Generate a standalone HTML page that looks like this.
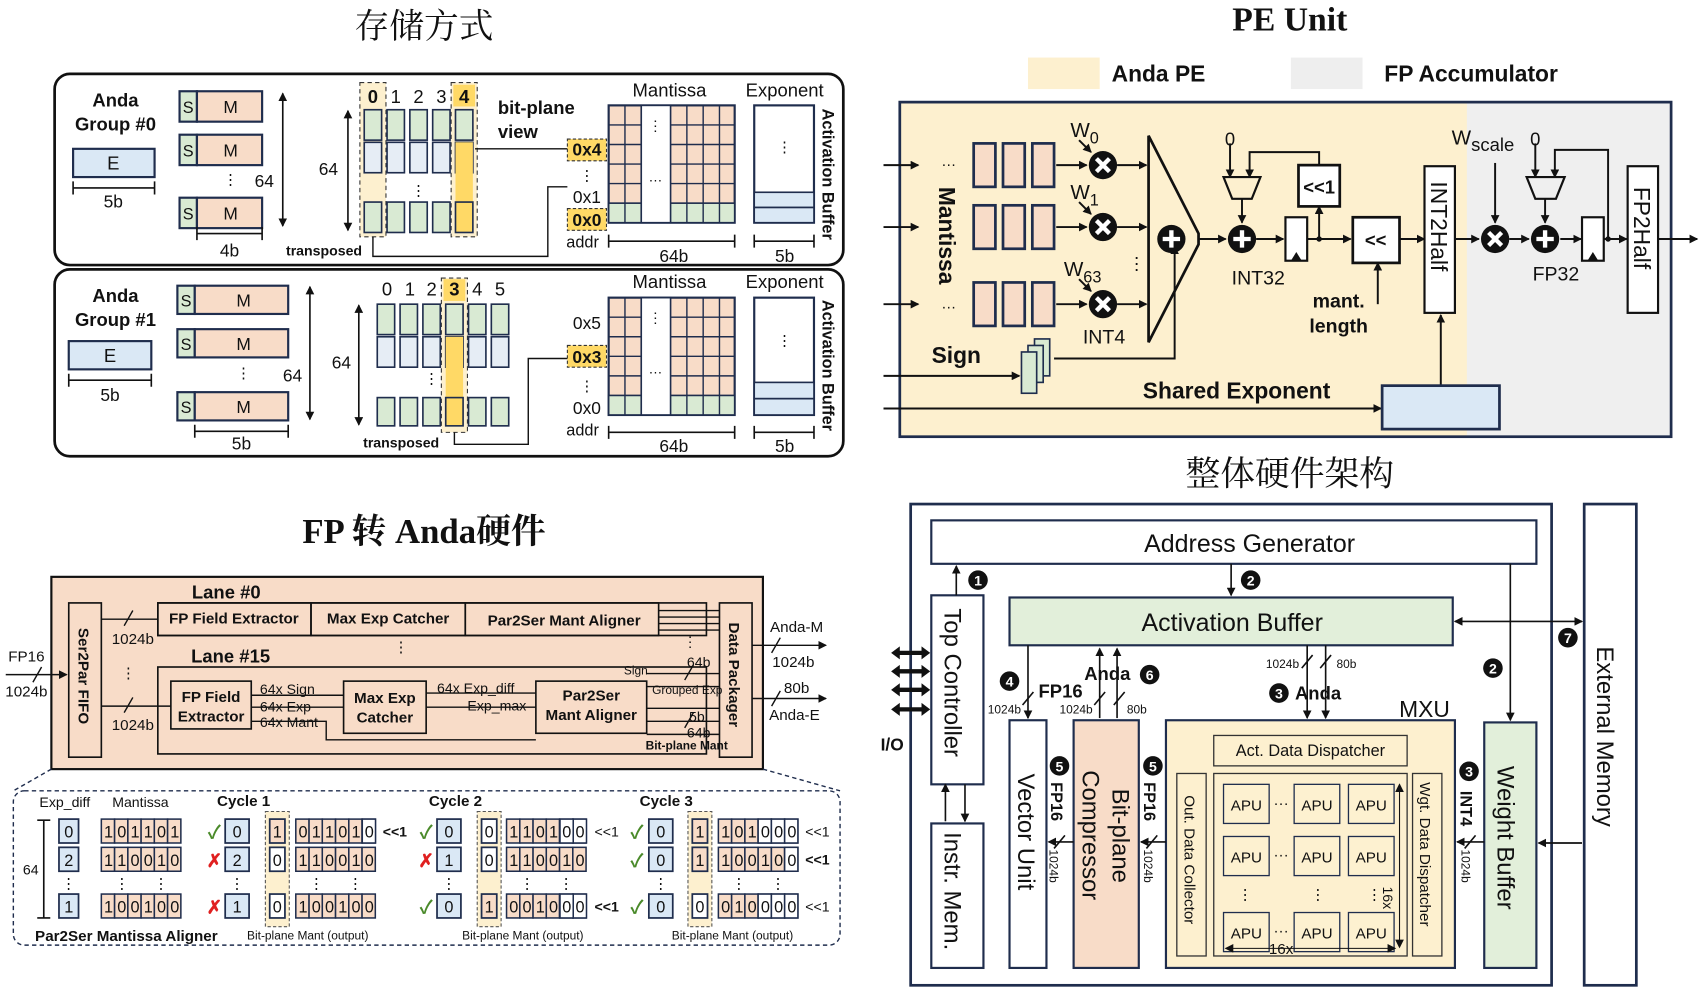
<!DOCTYPE html>
<html><head><meta charset="utf-8"><style>
html,body{margin:0;padding:0;background:#fff;}
svg{display:block;}
text{font-family:"Liberation Sans","Noto Sans CJK SC",sans-serif;fill:#111;}
.b{font-weight:bold;}
.cj{font-family:"Liberation Serif","Noto Serif CJK SC",serif;}
</style></head><body>
<svg width="1704" height="994" viewBox="0 0 1568 915" xmlns="http://www.w3.org/2000/svg">
<defs>
<marker id="ar" markerWidth="8" markerHeight="8" refX="7" refY="4" orient="auto" markerUnits="userSpaceOnUse"><path d="M0,0 L8,4 L0,8 z" fill="#111"/></marker>
<marker id="al" markerWidth="8" markerHeight="8" refX="1" refY="4" orient="auto" markerUnits="userSpaceOnUse"><path d="M8,0 L0,4 L8,8 z" fill="#111"/></marker>
<g id="m6" stroke="#1f2d4d" stroke-width="1.4" fill="#f8dcc8">
<rect x="0" width="12.2" height="22"/><rect x="12.2" width="12.2" height="22"/><rect x="24.4" width="12.2" height="22"/><rect x="36.6" width="12.2" height="22"/><rect x="48.8" width="12.2" height="22"/><rect x="61" width="12.2" height="22"/>
</g>
<g id="mgrid">
<rect x="0" y="0" width="116" height="108" fill="#f8dcc8" stroke="#1f2d4d" stroke-width="2"/>
<rect x="0" y="90" width="116" height="18" fill="#d9ead3" stroke="#1f2d4d" stroke-width="1.5"/>
<path d="M0,18 H116 M0,36 H116 M0,54 H116 M0,72 H116 M15,0 V108 M72,0 V108 M87,0 V108 M102,0 V108" stroke="#1f2d4d" stroke-width="1.3"/>
<rect x="30" y="0" width="27" height="108" fill="#fff" stroke="#1f2d4d" stroke-width="1.5"/>
<text x="43" y="23" font-size="13" text-anchor="middle">⋮</text>
<text x="43" y="70" font-size="13" text-anchor="middle">…</text>
</g>
<g id="col"><rect x="0" y="0" width="16" height="28" fill="#d9ead3" stroke="#1f2d4d" stroke-width="1.5"/><rect x="0" y="30" width="16" height="28" fill="#e6edf5" stroke="#1f2d4d" stroke-width="1.5"/></g>
<g id="cir"><circle r="13" fill="#111"/><path d="M-6,-6 L6,6 M-6,6 L6,-6" stroke="#fff" stroke-width="4"/></g>
<g id="plus"><circle r="13" fill="#111"/><path d="M-8,0 H8 M0,-8 V8" stroke="#fff" stroke-width="4"/></g>
<g id="reg3"><rect x="0" y="0" width="20" height="40" fill="#f8dcc8" stroke="#1f2d4d" stroke-width="2.5"/><rect x="27" y="0" width="20" height="40" fill="#f8dcc8" stroke="#1f2d4d" stroke-width="2.5"/><rect x="54" y="0" width="20" height="40" fill="#f8dcc8" stroke="#1f2d4d" stroke-width="2.5"/></g>
<g id="apu"><rect width="42" height="36" fill="#fdf1d0" stroke="#1f2d4d" stroke-width="1.2"/><text x="21" y="24" font-size="14" text-anchor="middle">APU</text></g>
</defs>

<!-- ================= TITLES ================= -->
<text x="390" y="35" font-size="32" text-anchor="middle" class="cj">存储方式</text>
<text x="1187" y="28" font-size="31" text-anchor="middle" class="cj b">PE Unit</text>
<text x="1187" y="447" font-size="32" text-anchor="middle" class="cj">整体硬件架构</text>
<text x="390" y="500" font-size="32" text-anchor="middle" class="cj b">FP 转 Anda硬件</text>

<!-- ================= STORAGE PANEL 1 ================= -->
<rect x="50" y="68" width="726" height="176" rx="14" fill="none" stroke="#111" stroke-width="2.5"/>
<text x="106" y="98" font-size="17" class="b" text-anchor="middle">Anda</text>
<text x="106" y="120" font-size="17" class="b" text-anchor="middle">Group #0</text>
<rect x="67" y="137" width="75" height="26" fill="#dae8f5" stroke="#1f2d4d" stroke-width="2"/>
<text x="104" y="156" font-size="17" text-anchor="middle">E</text>
<path d="M67,173 H142 M67,167 V179 M142,167 V179" stroke="#111" stroke-width="1.5"/>
<text x="104" y="191" font-size="16" text-anchor="middle">5b</text>
<g stroke="#1f2d4d" stroke-width="2">
<rect x="165" y="84" width="16" height="28" fill="#d9ead3"/><rect x="181" y="84" width="60" height="28" fill="#f8dcc8"/>
<rect x="165" y="124" width="16" height="28" fill="#d9ead3"/><rect x="181" y="124" width="60" height="28" fill="#f8dcc8"/>
<rect x="165" y="182" width="16" height="28" fill="#d9ead3"/><rect x="181" y="182" width="60" height="28" fill="#f8dcc8"/>
</g>
<text x="173" y="104" font-size="15" text-anchor="middle">S</text><text x="212" y="104" font-size="16" text-anchor="middle">M</text>
<text x="173" y="144" font-size="15" text-anchor="middle">S</text><text x="212" y="144" font-size="16" text-anchor="middle">M</text>
<text x="173" y="202" font-size="15" text-anchor="middle">S</text><text x="212" y="202" font-size="16" text-anchor="middle">M</text>
<text x="212" y="170" font-size="14" text-anchor="middle">⋮</text>
<text x="243" y="172" font-size="16" text-anchor="middle">64</text>
<path d="M260,86 V208" stroke="#111" stroke-width="1.5" marker-start="url(#al)" marker-end="url(#ar)"/>
<path d="M181,215 H241 M181,209 V221 M241,209 V221" stroke="#111" stroke-width="1.5"/>
<text x="211" y="236" font-size="16" text-anchor="middle">4b</text>
<text x="302" y="161" font-size="16" text-anchor="middle">64</text>
<path d="M320,102 V212" stroke="#111" stroke-width="1.5" marker-start="url(#al)" marker-end="url(#ar)"/>
<rect x="331" y="76" width="24" height="142" fill="#fdf0cf" stroke="#333" stroke-dasharray="4,3"/>
<rect x="415" y="76" width="24" height="142" fill="#fdf0cf" stroke="#333" stroke-dasharray="4,3"/>
<rect x="417" y="78" width="20" height="20" fill="#ffd966"/>
<text x="343" y="95" font-size="17" class="b" text-anchor="middle">0</text>
<text x="364" y="95" font-size="17" text-anchor="middle">1</text>
<text x="385" y="95" font-size="17" text-anchor="middle">2</text>
<text x="406" y="95" font-size="17" text-anchor="middle">3</text>
<text x="427" y="95" font-size="17" class="b" text-anchor="middle">4</text>
<use href="#col" x="335" y="101"/><use href="#col" x="356" y="101"/><use href="#col" x="377" y="101"/><use href="#col" x="398" y="101"/><use href="#col" x="419" y="101"/>
<rect x="419" y="131" width="16" height="78" fill="#ffd966"/>
<g fill="#d9ead3" stroke="#1f2d4d" stroke-width="1.5"><rect x="335" y="186" width="16" height="28"/><rect x="356" y="186" width="16" height="28"/><rect x="377" y="186" width="16" height="28"/><rect x="398" y="186" width="16" height="28"/><rect x="419" y="186" width="16" height="28" fill="#ffd966"/></g>
<text x="385" y="180" font-size="14" text-anchor="middle">⋮</text>
<text x="298" y="235" font-size="13" class="b" text-anchor="middle">transposed</text>
<path d="M343,218 V236 H504 V172 H522" fill="none" stroke="#111" stroke-width="1.3"/>
<path d="M437,137 H522" fill="none" stroke="#111" stroke-width="1.3"/>
<text x="458" y="105" font-size="17" class="b">bit-plane</text>
<text x="458" y="127" font-size="17" class="b">view</text>
<rect x="522" y="128" width="36" height="20" fill="#ffd966" stroke="#333" stroke-dasharray="3,2"/>
<text x="540" y="143" font-size="16" class="b" text-anchor="middle">0x4</text>
<text x="540" y="166" font-size="14" text-anchor="middle">⋮</text>
<text x="540" y="187" font-size="16" text-anchor="middle">0x1</text>
<rect x="522" y="192" width="36" height="20" fill="#ffd966" stroke="#333" stroke-dasharray="3,2"/>
<text x="540" y="208" font-size="16" class="b" text-anchor="middle">0x0</text>
<text x="536" y="228" font-size="15" text-anchor="middle">addr</text>
<text x="616" y="89" font-size="17" text-anchor="middle">Mantissa</text>
<use href="#mgrid" x="560" y="97"/>
<path d="M560,222 H676 M560,216 V228 M676,216 V228" stroke="#111" stroke-width="1.5"/>
<text x="620" y="241" font-size="16" text-anchor="middle">64b</text>
<text x="722" y="89" font-size="17" text-anchor="middle">Exponent</text>
<rect x="694" y="97" width="55" height="108" fill="#fff" stroke="#1f2d4d" stroke-width="2"/>
<rect x="694" y="177" width="55" height="14" fill="#dae8f5" stroke="#1f2d4d" stroke-width="1.5"/>
<rect x="694" y="191" width="55" height="14" fill="#dae8f5" stroke="#1f2d4d" stroke-width="1.5"/>
<text x="722" y="140" font-size="14" text-anchor="middle">⋮</text>
<path d="M694,222 H749 M694,216 V228 M749,216 V228" stroke="#111" stroke-width="1.5"/>
<text x="722" y="241" font-size="16" text-anchor="middle">5b</text>
<text transform="translate(757,100) rotate(90)" font-size="15" class="b">Activation Buffer</text>

<!-- ================= STORAGE PANEL 2 ================= -->
<rect x="50" y="248" width="726" height="172" rx="14" fill="none" stroke="#111" stroke-width="2.5"/>
<text x="106" y="278" font-size="17" class="b" text-anchor="middle">Anda</text>
<text x="106" y="300" font-size="17" class="b" text-anchor="middle">Group #1</text>
<rect x="63" y="314" width="76" height="26" fill="#dae8f5" stroke="#1f2d4d" stroke-width="2"/>
<text x="101" y="333" font-size="17" text-anchor="middle">E</text>
<path d="M63,350 H139 M63,344 V356 M139,344 V356" stroke="#111" stroke-width="1.5"/>
<text x="101" y="369" font-size="16" text-anchor="middle">5b</text>
<g stroke="#1f2d4d" stroke-width="2">
<rect x="163" y="263" width="16" height="26" fill="#d9ead3"/><rect x="179" y="263" width="86" height="26" fill="#f8dcc8"/>
<rect x="163" y="303" width="16" height="26" fill="#d9ead3"/><rect x="179" y="303" width="86" height="26" fill="#f8dcc8"/>
<rect x="163" y="361" width="16" height="26" fill="#d9ead3"/><rect x="179" y="361" width="86" height="26" fill="#f8dcc8"/>
</g>
<text x="171" y="282" font-size="15" text-anchor="middle">S</text><text x="224" y="282" font-size="16" text-anchor="middle">M</text>
<text x="171" y="322" font-size="15" text-anchor="middle">S</text><text x="224" y="322" font-size="16" text-anchor="middle">M</text>
<text x="171" y="380" font-size="15" text-anchor="middle">S</text><text x="224" y="380" font-size="16" text-anchor="middle">M</text>
<text x="224" y="348" font-size="14" text-anchor="middle">⋮</text>
<text x="269" y="351" font-size="16" text-anchor="middle">64</text>
<path d="M285,264 V386" stroke="#111" stroke-width="1.5" marker-start="url(#al)" marker-end="url(#ar)"/>
<path d="M179,397 H265 M179,391 V403 M265,391 V403" stroke="#111" stroke-width="1.5"/>
<text x="222" y="414" font-size="16" text-anchor="middle">5b</text>
<text x="314" y="339" font-size="16" text-anchor="middle">64</text>
<path d="M330,281 V391" stroke="#111" stroke-width="1.5" marker-start="url(#al)" marker-end="url(#ar)"/>
<rect x="406" y="256" width="24" height="142" fill="#fdf0cf" stroke="#333" stroke-dasharray="4,3"/>
<rect x="408" y="257" width="20" height="20" fill="#ffd966"/>
<text x="356" y="272" font-size="17" text-anchor="middle">0</text>
<text x="377" y="272" font-size="17" text-anchor="middle">1</text>
<text x="397" y="272" font-size="17" text-anchor="middle">2</text>
<text x="418" y="272" font-size="17" class="b" text-anchor="middle">3</text>
<text x="439" y="272" font-size="17" text-anchor="middle">4</text>
<text x="460" y="272" font-size="17" text-anchor="middle">5</text>
<use href="#col" x="347" y="280"/><use href="#col" x="368" y="280"/><use href="#col" x="389" y="280"/><use href="#col" x="410" y="280"/><use href="#col" x="431" y="280"/><use href="#col" x="452" y="280"/>
<rect x="410" y="310" width="16" height="58" fill="#ffd966"/>
<g fill="#d9ead3" stroke="#1f2d4d" stroke-width="1.5"><rect x="347" y="366" width="16" height="26"/><rect x="368" y="366" width="16" height="26"/><rect x="389" y="366" width="16" height="26"/><rect x="410" y="366" width="16" height="26" fill="#ffd966"/><rect x="431" y="366" width="16" height="26"/><rect x="452" y="366" width="16" height="26"/></g>
<text x="397" y="353" font-size="14" text-anchor="middle">⋮</text>
<text x="369" y="412" font-size="13" class="b" text-anchor="middle">transposed</text>
<path d="M418,398 V409 H486 V330 H522" fill="none" stroke="#111" stroke-width="1.3"/>
<text x="540" y="303" font-size="16" text-anchor="middle">0x5</text>
<rect x="522" y="318" width="36" height="20" fill="#ffd966" stroke="#333" stroke-dasharray="3,2"/>
<text x="540" y="334" font-size="16" class="b" text-anchor="middle">0x3</text>
<text x="540" y="360" font-size="14" text-anchor="middle">⋮</text>
<text x="540" y="381" font-size="16" text-anchor="middle">0x0</text>
<text x="536" y="401" font-size="15" text-anchor="middle">addr</text>
<text x="616" y="265" font-size="17" text-anchor="middle">Mantissa</text>
<use href="#mgrid" x="560" y="274"/>
<path d="M560,398 H676 M560,392 V404 M676,392 V404" stroke="#111" stroke-width="1.5"/>
<text x="620" y="416" font-size="16" text-anchor="middle">64b</text>
<text x="722" y="265" font-size="17" text-anchor="middle">Exponent</text>
<rect x="694" y="274" width="55" height="108" fill="#fff" stroke="#1f2d4d" stroke-width="2"/>
<rect x="694" y="352" width="55" height="15" fill="#dae8f5" stroke="#1f2d4d" stroke-width="1.5"/>
<rect x="694" y="367" width="55" height="15" fill="#dae8f5" stroke="#1f2d4d" stroke-width="1.5"/>
<text x="722" y="318" font-size="14" text-anchor="middle">⋮</text>
<path d="M694,398 H749 M694,392 V404 M749,392 V404" stroke="#111" stroke-width="1.5"/>
<text x="722" y="416" font-size="16" text-anchor="middle">5b</text>
<text transform="translate(757,276) rotate(90)" font-size="15" class="b">Activation Buffer</text>

<!-- ================= PE UNIT ================= -->
<rect x="946" y="53" width="66" height="29" fill="#fdf0cf"/>
<text x="1023" y="75" font-size="21" class="b">Anda PE</text>
<rect x="1188" y="53" width="66" height="29" fill="#eeeeee"/>
<text x="1274" y="75" font-size="21" class="b">FP Accumulator</text>
<rect x="828" y="94" width="710" height="308" fill="#efefef"/>
<rect x="828" y="94" width="522" height="308" fill="#fdf0cf"/>
<rect x="828" y="94" width="710" height="308" fill="none" stroke="#1f2d4d" stroke-width="2.5"/>
<g stroke="#111" stroke-width="1.8" fill="none">
<path d="M813,152 H845" marker-end="url(#ar)"/><path d="M813,209 H845" marker-end="url(#ar)"/><path d="M813,280 H845" marker-end="url(#ar)"/>
<path d="M972,152 H1000" marker-end="url(#ar)"/><path d="M972,209 H1000" marker-end="url(#ar)"/><path d="M972,280 H1000" marker-end="url(#ar)"/>
<path d="M1028,152 H1055" marker-end="url(#ar)"/><path d="M1028,209 H1055" marker-end="url(#ar)"/><path d="M1028,280 H1055" marker-end="url(#ar)"/>
<path d="M993,129 L1004,140" marker-end="url(#ar)"/><path d="M993,186 L1004,197" marker-end="url(#ar)"/><path d="M993,257 L1004,268" marker-end="url(#ar)"/>
<path d="M1103,220 H1128" marker-end="url(#ar)"/>
<path d="M1156,220 H1181" marker-end="url(#ar)"/>
<path d="M1203,220 H1243" marker-end="url(#ar)"/>
<path d="M1214,220 V190" marker-end="url(#ar)"/>
<path d="M1214,152 V140 H1150 V163" marker-end="url(#ar)"/>
<path d="M1132,132 V163" marker-end="url(#ar)"/>
<path d="M1143,183 V205" marker-end="url(#ar)"/>
<path d="M1268,280 V242" marker-end="url(#ar)"/>
<path d="M1288,220 H1311" marker-end="url(#ar)"/>
<path d="M1339,220 H1361" marker-end="url(#ar)"/>
<path d="M1376,150 V205" marker-end="url(#ar)"/>
<path d="M1389,220 H1407" marker-end="url(#ar)"/>
<path d="M1413,132 V163" marker-end="url(#ar)"/>
<path d="M1480,220 V138 H1431 V163" marker-end="url(#ar)"/>
<path d="M1422,183 V205" marker-end="url(#ar)"/>
<path d="M1436,220 H1455" marker-end="url(#ar)"/>
<path d="M1476,220 H1497" marker-end="url(#ar)"/>
<path d="M1526,220 H1562" marker-end="url(#ar)"/>
<path d="M813,346 H938" marker-end="url(#ar)"/>
<path d="M970,330 H1081 V227" marker-end="url(#ar)"/>
<path d="M813,376 H1271" marker-end="url(#ar)"/>
<path d="M1326,355 V290" marker-end="url(#ar)"/>
</g>
<circle cx="1214" cy="220" r="2.5" fill="#111"/><circle cx="1480" cy="220" r="2.5" fill="#111"/>
<text x="873" y="153" font-size="14" text-anchor="middle">…</text>
<text x="873" y="284" font-size="14" text-anchor="middle">…</text>
<text transform="translate(864,172) rotate(90)" font-size="21" class="b">Mantissa</text>
<use href="#reg3" x="896" y="132"/><use href="#reg3" x="896" y="189"/><use href="#reg3" x="896" y="260"/>
<use href="#cir" x="1015" y="152"/><use href="#cir" x="1015" y="209"/><use href="#cir" x="1015" y="280"/>
<text x="985" y="126" font-size="19">W<tspan font-size="15" dy="6">0</tspan></text>
<text x="985" y="183" font-size="19">W<tspan font-size="15" dy="6">1</tspan></text>
<text x="979" y="254" font-size="19">W<tspan font-size="15" dy="6">63</tspan></text>
<text x="1038" y="248" font-size="16">⋮</text>
<text x="1016" y="316" font-size="18" text-anchor="middle">INT4</text>
<polygon points="1057,125 1103,215 1103,225 1057,315" fill="none" stroke="#111" stroke-width="2.5"/>
<use href="#plus" x="1078" y="220"/>
<text x="880" y="334" font-size="21" class="b" text-anchor="middle">Sign</text>
<rect x="952" y="312" width="14" height="34" fill="#d9ead3" stroke="#1f2d4d" stroke-width="1.5"/>
<rect x="946" y="318" width="14" height="34" fill="#d9ead3" stroke="#1f2d4d" stroke-width="1.5"/>
<rect x="940" y="324" width="14" height="38" fill="#d9ead3" stroke="#1f2d4d" stroke-width="1.5"/>
<text x="1138" y="367" font-size="21" class="b" text-anchor="middle">Shared Exponent</text>
<rect x="1272" y="355" width="108" height="40" fill="#dae8f5" stroke="#1f2d4d" stroke-width="2.5"/>
<text x="1132" y="134" font-size="17" text-anchor="middle">0</text>
<polygon points="1126,163 1160,163 1152,183 1134,183" fill="none" stroke="#111" stroke-width="2"/>
<use href="#plus" x="1143" y="220"/>
<text x="1158" y="262" font-size="18" text-anchor="middle">INT32</text>
<rect x="1183" y="200" width="20" height="40" fill="#fff" stroke="#111" stroke-width="2"/>
<path d="M1188,240 L1193,232 L1198,240" fill="#111"/>
<rect x="1195" y="152" width="38" height="38" fill="#fff" stroke="#111" stroke-width="2.5"/>
<text x="1214" y="178" font-size="17" class="b" text-anchor="middle">&lt;&lt;1</text>
<rect x="1245" y="200" width="43" height="42" fill="#fff" stroke="#111" stroke-width="2.5"/>
<text x="1266" y="227" font-size="17" class="b" text-anchor="middle">&lt;&lt;</text>
<text x="1232" y="283" font-size="18" class="b" text-anchor="middle">mant.</text>
<text x="1232" y="306" font-size="18" class="b" text-anchor="middle">length</text>
<rect x="1311" y="153" width="28" height="135" fill="#fff" stroke="#111" stroke-width="2"/>
<text transform="translate(1317,167) rotate(90)" font-size="21">INT2Half</text>
<use href="#cir" x="1376" y="220"/>
<text x="1336" y="133" font-size="19">W<tspan font-size="17" dy="6">scale</tspan></text>
<text x="1413" y="134" font-size="17" text-anchor="middle">0</text>
<polygon points="1405,163 1440,163 1432,183 1413,183" fill="none" stroke="#111" stroke-width="2"/>
<use href="#plus" x="1422" y="220"/>
<text x="1432" y="258" font-size="18" text-anchor="middle">FP32</text>
<rect x="1456" y="200" width="20" height="40" fill="#fff" stroke="#111" stroke-width="2"/>
<path d="M1461,240 L1466,232 L1471,240" fill="#111"/>
<rect x="1498" y="153" width="28" height="135" fill="#fff" stroke="#111" stroke-width="2"/>
<text transform="translate(1504,172) rotate(90)" font-size="21">FP2Half</text>

<!-- ================= FP -> ANDA ================= -->
<rect x="47" y="531" width="655" height="177" fill="#f8dcc8" stroke="#111" stroke-width="2"/>
<rect x="63" y="555" width="30" height="142" fill="#f8dcc8" stroke="#111" stroke-width="1.5"/>
<text transform="translate(72,578) rotate(90)" font-size="14" class="b">Ser2Par FIFO</text>
<rect x="662" y="555" width="30" height="142" fill="#f8dcc8" stroke="#111" stroke-width="1.5"/>
<text transform="translate(671,573) rotate(90)" font-size="14" class="b">Data Packager</text>
<text x="208" y="551" font-size="17" class="b" text-anchor="middle">Lane #0</text>
<rect x="145" y="555" width="505" height="30" fill="none" stroke="#111" stroke-width="1.5"/>
<rect x="145" y="555" width="141" height="30" fill="none" stroke="#111" stroke-width="1.5"/>
<rect x="286" y="555" width="142" height="30" fill="none" stroke="#111" stroke-width="1.5"/>
<rect x="428" y="555" width="178" height="30" fill="none" stroke="#111" stroke-width="1.5"/>
<text x="215" y="574" font-size="14" class="b" text-anchor="middle">FP Field Extractor</text>
<text x="357" y="574" font-size="14" class="b" text-anchor="middle">Max Exp Catcher</text>
<text x="519" y="576" font-size="14" class="b" text-anchor="middle">Par2Ser Mant Aligner</text>
<text x="212" y="610" font-size="17" class="b" text-anchor="middle">Lane #15</text>
<rect x="145" y="614" width="505" height="80" fill="none" stroke="#111" stroke-width="1.5"/>
<rect x="157" y="627" width="74" height="44" fill="none" stroke="#111" stroke-width="1.5"/>
<text x="194" y="646" font-size="14" class="b" text-anchor="middle">FP Field</text>
<text x="194" y="664" font-size="14" class="b" text-anchor="middle">Extractor</text>
<rect x="316" y="627" width="76" height="48" fill="none" stroke="#111" stroke-width="1.5"/>
<text x="354" y="647" font-size="14" class="b" text-anchor="middle">Max Exp</text>
<text x="354" y="665" font-size="14" class="b" text-anchor="middle">Catcher</text>
<rect x="493" y="627" width="102" height="48" fill="none" stroke="#111" stroke-width="1.5"/>
<text x="544" y="645" font-size="14" class="b" text-anchor="middle">Par2Ser</text>
<text x="544" y="663" font-size="14" class="b" text-anchor="middle">Mant Aligner</text>
<g stroke="#111" stroke-width="1.3" fill="none">
<path d="M5,621 H61" marker-end="url(#ar)"/>
<path d="M93,570 H145"/><path d="M93,650 H157"/>
<path d="M231,640 H316" /><path d="M231,651 H316"/><path d="M231,664 H300 V681 H493"/>
<path d="M392,638 H493"/><path d="M392,651 H493"/>
<path d="M606,562 H662"/><path d="M606,568 H662"/><path d="M606,574 H662"/><path d="M606,580 H662"/>
<path d="M595,620 H662"/><path d="M595,632 H662"/><path d="M595,652 H662"/><path d="M595,664 H662"/><path d="M595,676 H662"/>
<path d="M692,594 H760" marker-end="url(#ar)"/>
<path d="M692,643 H760" marker-end="url(#ar)"/>
<path d="M30,628 L38,614 M114,576 L122,562 M114,656 L122,642 M630,626 L638,612 M630,670 L638,656 M710,601 L718,587 M710,650 L718,636"/>
</g>
<text x="24" y="609" font-size="14" text-anchor="middle">FP16</text>
<text x="24" y="641" font-size="14" text-anchor="middle">1024b</text>
<text x="122" y="593" font-size="14" text-anchor="middle">1024b</text>
<text x="122" y="672" font-size="14" text-anchor="middle">1024b</text>
<text x="118" y="624" font-size="14" text-anchor="middle">⋮</text>
<text x="369" y="600" font-size="14" text-anchor="middle">⋮</text>
<text x="635" y="595" font-size="13" text-anchor="middle">⋮</text>
<text x="239" y="639" font-size="13">64x Sign</text>
<text x="239" y="655" font-size="13">64x Exp</text>
<text x="239" y="669" font-size="13">64x Mant</text>
<text x="402" y="638" font-size="13">64x Exp_diff</text>
<text x="430" y="654" font-size="13">Exp_max</text>
<text x="574" y="621" font-size="11">Sign</text>
<text x="632" y="614" font-size="13">64b</text>
<text x="600" y="639" font-size="11">Grouped Exp</text>
<text x="634" y="664" font-size="13">5b</text>
<text x="632" y="679" font-size="13">64b</text>
<text x="594" y="690" font-size="11" class="b">Bit-plane Mant</text>
<text x="733" y="582" font-size="14" text-anchor="middle">Anda-M</text>
<text x="730" y="614" font-size="14" text-anchor="middle">1024b</text>
<text x="733" y="638" font-size="14" text-anchor="middle">80b</text>
<text x="731" y="663" font-size="14" text-anchor="middle">Anda-E</text>
<path d="M47,708 L12,728 M702,708 L773,728" stroke="#1f2d4d" stroke-width="1.3" stroke-dasharray="4,3"/>
<rect x="12" y="728" width="761" height="142" rx="10" fill="none" stroke="#1f2d4d" stroke-width="1.3" stroke-dasharray="4,3"/>

<!-- aligner -->
<text x="36" y="743" font-size="13">Exp_diff</text>
<text x="103" y="743" font-size="13">Mantissa</text>
<text x="224" y="742" font-size="14" class="b" text-anchor="middle">Cycle 1</text>
<text x="419" y="742" font-size="14" class="b" text-anchor="middle">Cycle 2</text>
<text x="613" y="742" font-size="14" class="b" text-anchor="middle">Cycle 3</text>
<path d="M40,755 V845 M34,755 H46 M34,845 H46" stroke="#111" stroke-width="1.5"/>
<text x="28" y="805" font-size="13" text-anchor="middle">64</text>
<rect x="244" y="747" width="22" height="106" fill="#fdf0cf" stroke="#555" stroke-dasharray="3,2"/>
<rect x="439" y="747" width="22" height="106" fill="#fdf0cf" stroke="#555" stroke-dasharray="3,2"/>
<rect x="633" y="747" width="22" height="106" fill="#fdf0cf" stroke="#555" stroke-dasharray="3,2"/>
<g stroke="#1f2d4d" stroke-width="1.6" fill="#dae8f5">
<rect x="54" y="754" width="18" height="22"/><rect x="54" y="780" width="18" height="22"/><rect x="54" y="823" width="18" height="22"/>
<rect x="207" y="754" width="22" height="22"/><rect x="207" y="780" width="22" height="22"/><rect x="207" y="823" width="22" height="22"/>
<rect x="402" y="754" width="22" height="22"/><rect x="402" y="780" width="22" height="22"/><rect x="402" y="823" width="22" height="22"/>
<rect x="597" y="754" width="22" height="22"/><rect x="597" y="780" width="22" height="22"/><rect x="597" y="823" width="22" height="22"/>
</g>
<g stroke="#1f2d4d" stroke-width="1.6" fill="#f8dcc8">
<rect x="248" y="754" width="14" height="22"/><rect x="248" y="780" width="14" height="22" fill="#fff"/><rect x="248" y="823" width="14" height="22" fill="#fff"/>
<rect x="443" y="754" width="14" height="22" fill="#fff"/><rect x="443" y="780" width="14" height="22" fill="#fff"/><rect x="443" y="823" width="14" height="22"/>
<rect x="637" y="754" width="14" height="22"/><rect x="637" y="780" width="14" height="22"/><rect x="637" y="823" width="14" height="22" fill="#fff"/>
</g>
<use href="#m6" x="93" y="754"/><use href="#m6" x="93" y="780"/><use href="#m6" x="93" y="823"/>
<use href="#m6" x="272" y="754"/><use href="#m6" x="272" y="780"/><use href="#m6" x="272" y="823"/>
<use href="#m6" x="466" y="754"/><use href="#m6" x="466" y="780"/><use href="#m6" x="466" y="823"/>
<use href="#m6" x="661" y="754"/><use href="#m6" x="661" y="780"/><use href="#m6" x="661" y="823"/>
<g fill="#fff" stroke="#1f2d4d" stroke-width="1.4">
<rect x="333.2" y="754" width="12.2" height="22"/>
<rect x="515.2" y="754" width="12.2" height="22"/><rect x="527.4" y="754" width="12.2" height="22"/>
<rect x="515.2" y="823" width="12.2" height="22"/><rect x="527.4" y="823" width="12.2" height="22"/>
<rect x="697.6" y="754" width="12.2" height="22"/><rect x="709.8" y="754" width="12.2" height="22"/><rect x="722" y="754" width="12.2" height="22"/>
<rect x="722" y="780" width="12.2" height="22"/>
<rect x="697.6" y="823" width="12.2" height="22"/><rect x="709.8" y="823" width="12.2" height="22"/><rect x="722" y="823" width="12.2" height="22"/>
</g>
<g font-size="15" text-anchor="middle">
<text x="63" y="771">0</text><text x="63" y="797">2</text><text x="63" y="840">1</text>
<text x="218" y="771">0</text><text x="218" y="797">2</text><text x="218" y="840">1</text>
<text x="413" y="771">0</text><text x="413" y="797">1</text><text x="413" y="840">0</text>
<text x="608" y="771">0</text><text x="608" y="797">0</text><text x="608" y="840">0</text>
<text x="255" y="771">1</text><text x="255" y="797">0</text><text x="255" y="840">0</text>
<text x="450" y="771">0</text><text x="450" y="797">0</text><text x="450" y="840">1</text>
<text x="644" y="771">1</text><text x="644" y="797">1</text><text x="644" y="840">0</text>
</g>
<g font-size="15">
<text x="95.5 107.7 119.9 132.1 144.3 156.5" y="771">101101</text>
<text x="95.5 107.7 119.9 132.1 144.3 156.5" y="797">110010</text>
<text x="95.5 107.7 119.9 132.1 144.3 156.5" y="840">100100</text>
<text x="274.5 286.7 298.9 311.1 323.3 335.5" y="771">011010</text>
<text x="274.5 286.7 298.9 311.1 323.3 335.5" y="797">110010</text>
<text x="274.5 286.7 298.9 311.1 323.3 335.5" y="840">100100</text>
<text x="468.5 480.7 492.9 505.1 517.3 529.5" y="771">110100</text>
<text x="468.5 480.7 492.9 505.1 517.3 529.5" y="797">110010</text>
<text x="468.5 480.7 492.9 505.1 517.3 529.5" y="840">001000</text>
<text x="663.5 675.7 687.9 700.1 712.3 724.5" y="771">101000</text>
<text x="663.5 675.7 687.9 700.1 712.3 724.5" y="797">100100</text>
<text x="663.5 675.7 687.9 700.1 712.3 724.5" y="840">010000</text>
</g>
<g font-size="14" text-anchor="middle">
<text x="63" y="818">⋮</text><text x="218" y="818">⋮</text><text x="413" y="818">⋮</text><text x="608" y="818">⋮</text>
<text x="112" y="818">⋮</text><text x="148" y="818">⋮</text><text x="291" y="818">⋮</text><text x="327" y="818">⋮</text>
<text x="485" y="818">⋮</text><text x="521" y="818">⋮</text><text x="680" y="818">⋮</text><text x="716" y="818">⋮</text>
</g>
<g font-size="17" class="b" text-anchor="middle">
<text x="197" y="772" style="fill:#4a8a2a">✓</text><text x="197" y="798" style="fill:#e02020">✗</text><text x="197" y="841" style="fill:#e02020">✗</text>
<text x="392" y="772" style="fill:#4a8a2a">✓</text><text x="392" y="798" style="fill:#e02020">✗</text><text x="392" y="841" style="fill:#4a8a2a">✓</text>
<text x="586" y="772" style="fill:#4a8a2a">✓</text><text x="586" y="798" style="fill:#4a8a2a">✓</text><text x="586" y="841" style="fill:#4a8a2a">✓</text>
</g>
<g font-size="13">
<text x="352" y="770" class="b">&lt;&lt;1</text>
<text x="547" y="770">&lt;&lt;1</text><text x="547" y="839" class="b">&lt;&lt;1</text>
<text x="741" y="770">&lt;&lt;1</text><text x="741" y="796" class="b">&lt;&lt;1</text><text x="741" y="839">&lt;&lt;1</text>
</g>
<text x="32" y="866" font-size="14" class="b">Par2Ser Mantissa Aligner</text>
<text x="283" y="865" font-size="11" text-anchor="middle">Bit-plane Mant (output)</text>
<text x="481" y="865" font-size="11" text-anchor="middle">Bit-plane Mant (output)</text>
<text x="674" y="865" font-size="11" text-anchor="middle">Bit-plane Mant (output)</text>

<!-- ================= ARCHITECTURE ================= -->
<rect x="838" y="464" width="590" height="443" fill="none" stroke="#1f2d4d" stroke-width="2.5"/>
<rect x="1458" y="464" width="48" height="443" fill="#fff" stroke="#1f2d4d" stroke-width="2.5"/>
<text transform="translate(1470,595) rotate(90)" font-size="22">External Memory</text>
<rect x="857" y="479" width="557" height="40" fill="#fff" stroke="#1f2d4d" stroke-width="2"/>
<text x="1150" y="508" font-size="23" text-anchor="middle">Address Generator</text>
<rect x="857" y="548" width="48" height="174" fill="#fff" stroke="#1f2d4d" stroke-width="2"/>
<text transform="translate(869,560) rotate(90)" font-size="22">Top Controller</text>
<rect x="857" y="758" width="48" height="133" fill="#fff" stroke="#1f2d4d" stroke-width="2"/>
<text transform="translate(869,766) rotate(90)" font-size="22">Instr. Mem.</text>
<rect x="929" y="550" width="408" height="44" fill="#e2efda" stroke="#1f2d4d" stroke-width="2"/>
<text x="1134" y="581" font-size="23" text-anchor="middle">Activation Buffer</text>
<rect x="929" y="663" width="34" height="228" fill="#fff" stroke="#1f2d4d" stroke-width="2"/>
<text transform="translate(937,712) rotate(90)" font-size="22">Vector Unit</text>
<rect x="988" y="663" width="60" height="228" fill="#f8dcc8" stroke="#1f2d4d" stroke-width="2"/>
<text transform="translate(1024,726) rotate(90)" font-size="22">Bit-plane</text>
<text transform="translate(996,709) rotate(90)" font-size="22">Compressor</text>
<rect x="1073" y="663" width="266" height="228" fill="#fdf0cf" stroke="#1f2d4d" stroke-width="2"/>
<text x="1311" y="660" font-size="21" text-anchor="middle">MXU</text>
<rect x="1117" y="677" width="178" height="28" fill="#fdf0cf" stroke="#333" stroke-width="1.2"/>
<text x="1206" y="696" font-size="15" text-anchor="middle">Act. Data Dispatcher</text>
<rect x="1083" y="712" width="27" height="168" fill="#fdf0cf" stroke="#333" stroke-width="1.2"/>
<text transform="translate(1090,732) rotate(90)" font-size="14">Out. Data Collector</text>
<rect x="1117" y="712" width="178" height="168" fill="#fdf0cf" stroke="#333" stroke-width="1.2"/>
<rect x="1300" y="712" width="27" height="168" fill="#fdf0cf" stroke="#333" stroke-width="1.2"/>
<text transform="translate(1307,720) rotate(90)" font-size="14">Wgt. Data Dispatcher</text>
<use href="#apu" x="1126" y="722"/><use href="#apu" x="1191" y="722"/><use href="#apu" x="1241" y="722"/>
<use href="#apu" x="1126" y="770"/><use href="#apu" x="1191" y="770"/><use href="#apu" x="1241" y="770"/>
<use href="#apu" x="1126" y="840"/><use href="#apu" x="1191" y="840"/><use href="#apu" x="1241" y="840"/>
<g font-size="14" text-anchor="middle">
<text x="1179" y="744">···</text><text x="1179" y="791">···</text><text x="1179" y="861">···</text>
<text x="1146" y="828">⋮</text><text x="1213" y="828">⋮</text><text x="1265" y="828">⋮</text>
<text x="1179" y="878">16x</text>
</g>
<text transform="translate(1273,816) rotate(90)" font-size="13">16x</text>
<path d="M1128,873 H1284" stroke="#111" stroke-width="1" marker-start="url(#al)" marker-end="url(#ar)"/>
<path d="M1288,722 V872" stroke="#111" stroke-width="1" marker-start="url(#al)" marker-end="url(#ar)"/>
<rect x="1366" y="665" width="48" height="226" fill="#e2efda" stroke="#1f2d4d" stroke-width="2"/>
<text transform="translate(1378,705) rotate(90)" font-size="22">Weight Buffer</text>
<g stroke="#111" stroke-width="1.5" fill="none">
<path d="M880,548 V521" marker-end="url(#ar)"/>
<path d="M1133,519 V548" marker-end="url(#ar)"/>
<path d="M1390,519 V663" marker-end="url(#ar)"/>
<path d="M1339,572 H1456" marker-start="url(#al)" marker-end="url(#ar)"/>
<path d="M1456,776 H1416" marker-end="url(#ar)"/>
<path d="M946,594 V661" marker-end="url(#ar)"/>
<path d="M1012,661 V597" marker-end="url(#ar)"/>
<path d="M1028,661 V597" marker-end="url(#ar)"/>
<path d="M1203,594 V661" marker-end="url(#ar)"/>
<path d="M1220,594 V661" marker-end="url(#ar)"/>
<path d="M988,775 H965" marker-end="url(#ar)"/>
<path d="M1073,775 H1050" marker-end="url(#ar)"/>
<path d="M1366,775 H1341" marker-end="url(#ar)"/>
<path d="M870,722 V756" marker-start="url(#al)"/>
<path d="M888,722 V756" marker-end="url(#ar)"/>
<path d="M941,649 L951,637 M1007,649 L1017,637 M1025,649 L1035,637 M1198,615 L1208,603 M1215,615 L1225,603 M970,781 L980,769 M1055,781 L1065,769 M1348,781 L1358,769"/>
</g>
<g stroke="#111" stroke-width="4" fill="none">
<path d="M823,601 H853 M823,618 H853 M823,635 H853 M823,653 H853"/>
</g>
<g fill="#111">
<path d="M820,601 l8,-6 v12z M856,601 l-8,-6 v12z M820,618 l8,-6 v12z M856,618 l-8,-6 v12z M820,635 l8,-6 v12z M856,635 l-8,-6 v12z M820,653 l8,-6 v12z M856,653 l-8,-6 v12z"/>
</g>
<text x="821" y="691" font-size="16" class="b" text-anchor="middle">I/O</text>
<g font-size="11">
<text x="909" y="657">1024b</text><text x="975" y="657">1024b</text><text x="1037" y="657">80b</text>
<text x="1165" y="615">1024b</text><text x="1230" y="615">80b</text>
</g>
<text x="976" y="642" font-size="17" class="b" text-anchor="middle">FP16</text>
<text x="1019" y="626" font-size="17" class="b" text-anchor="middle">Anda</text>
<text x="1213" y="644" font-size="17" class="b" text-anchor="middle">Anda</text>
<text transform="translate(967,720) rotate(90)" font-size="15" class="b">FP16</text>
<text transform="translate(1053,720) rotate(90)" font-size="15" class="b">FP16</text>
<text transform="translate(1344,728) rotate(90)" font-size="15" class="b">INT4</text>
<text transform="translate(966,782) rotate(90)" font-size="11">1024b</text>
<text transform="translate(1053,782) rotate(90)" font-size="11">1024b</text>
<text transform="translate(1345,782) rotate(90)" font-size="11">1024b</text>
<g font-size="13" class="b" text-anchor="middle">
<circle cx="900" cy="534" r="9" fill="#111"/><text x="900" y="539" style="fill:#fff">1</text>
<circle cx="1151" cy="534" r="9" fill="#111"/><text x="1151" y="539" style="fill:#fff">2</text>
<circle cx="1374" cy="615" r="9" fill="#111"/><text x="1374" y="620" style="fill:#fff">2</text>
<circle cx="1443" cy="587" r="9" fill="#111"/><text x="1443" y="592" style="fill:#fff">7</text>
<circle cx="929" cy="627" r="9" fill="#111"/><text x="929" y="632" style="fill:#fff">4</text>
<circle cx="1058" cy="621" r="9" fill="#111"/><text x="1058" y="626" style="fill:#fff">6</text>
<circle cx="1177" cy="638" r="9" fill="#111"/><text x="1177" y="643" style="fill:#fff">3</text>
<circle cx="975" cy="705" r="9" fill="#111"/><text x="975" y="710" style="fill:#fff">5</text>
<circle cx="1061" cy="705" r="9" fill="#111"/><text x="1061" y="710" style="fill:#fff">5</text>
<circle cx="1352" cy="710" r="9" fill="#111"/><text x="1352" y="715" style="fill:#fff">3</text>
</g>
</svg>
</body></html>
